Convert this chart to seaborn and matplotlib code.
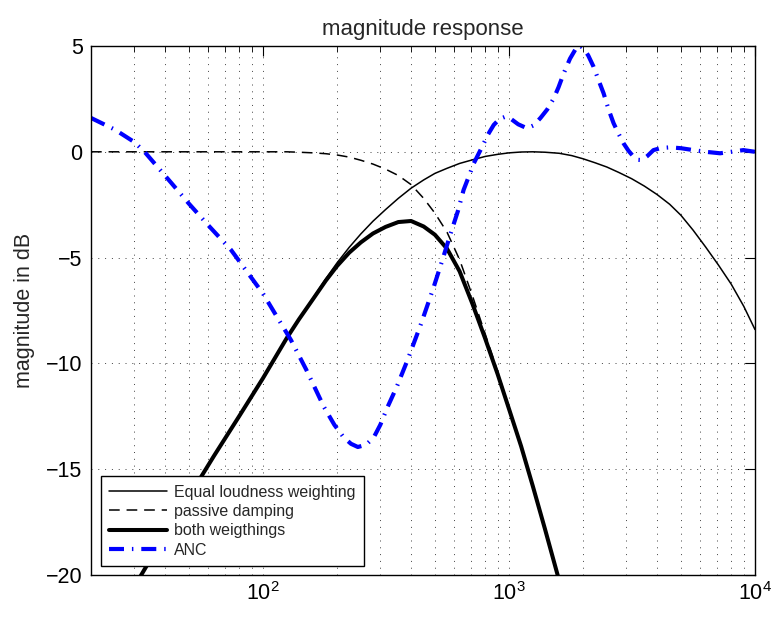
import numpy as np
import pandas as pd
import matplotlib
matplotlib.use("Agg")
import matplotlib.pyplot as plt
import seaborn as sns
from matplotlib.ticker import LogLocator, FixedLocator

# ---------------- data ----------------
freq = [20, 25, 32, 40, 50, 63, 80, 100, 125, 140, 160, 180, 200, 224, 250, 280,
        315, 355, 400, 450, 500, 560, 630, 710, 800, 900, 1000, 1120, 1250, 1400,
        1600, 1800, 2000, 2240, 2500, 2800, 3150, 3550, 4000, 4500, 5000, 5600,
        6300, 7100, 8000, 9000, 10000]
loudness = [-24.0, -22.1, -20.0, -18.1, -16.3, -14.4, -12.5, -10.7, -8.8, -7.9,
            -6.9, -6.0, -5.25, -4.52, -3.88, -3.28, -2.73, -2.2, -1.72, -1.33,
            -1.02, -0.78, -0.55, -0.38, -0.22, -0.12, -0.05, -0.01, 0.0, -0.02,
            -0.07, -0.18, -0.33, -0.52, -0.72, -0.98, -1.27, -1.62, -2.02, -2.48,
            -3.0, -3.7, -4.5, -5.35, -6.25, -7.3, -8.4]

passive_freq = [20, 25, 32, 40, 50, 63, 80, 100, 125, 140, 160, 180, 200, 224, 250,
                280, 315, 355, 400, 450, 500, 560, 630, 710, 800, 900, 1000, 1120,
                1250, 1400, 1600, 1800, 2000, 2500]
passive = [0.0, 0.0, 0.0, 0.0, 0.0, 0.0, 0.0, 0.0, 0.0, -0.02, -0.05, -0.09, -0.15,
           -0.25, -0.4, -0.58, -0.82, -1.12, -1.55, -2.2, -2.9, -3.8, -5.1, -6.8,
           -8.6, -10.4, -12.1, -13.9, -15.8, -17.8, -20.2, -22.2, -24.0, -28.0]

both_freq = passive_freq
both = [-24.0, -22.1, -20.0, -18.1, -16.3, -14.4, -12.5, -10.7, -8.8, -7.92, -6.95,
        -6.09, -5.4, -4.77, -4.28, -3.86, -3.55, -3.32, -3.27, -3.53, -3.92, -4.58,
        -5.65, -7.18, -8.82, -10.52, -12.15, -13.91, -15.8, -17.82, -20.27, -22.38,
        -24.33, -28.72]

anc_freq = [20, 25, 30, 33, 42.4, 50, 59.8, 74.2, 86.9, 100, 130, 150, 177, 195,
            213, 228, 243, 262, 282, 300, 321, 350, 387, 440, 494, 540, 580, 620,
            654, 690, 719, 778, 820, 867, 915, 968, 1020, 1090, 1185, 1260, 1343,
            1430, 1521, 1590, 1668, 1770, 1891, 1950, 2011, 2100, 2207, 2310, 2425,
            2540, 2662, 2790, 2922, 3060, 3208, 3350, 3468, 3650, 3866, 4150, 4517,
            5000, 5620, 6300, 7210, 8000, 8970, 10000]
anc = [1.6, 1.05, 0.46, 0.0, -1.47, -2.45, -3.46, -4.64, -5.73, -6.7, -8.9, -10.3,
       -12.06, -12.9, -13.5, -13.8, -13.95, -13.85, -13.5, -12.9, -12.06, -11.1,
       -9.84, -8.1, -6.4, -5.0, -3.84, -2.8, -1.8, -1.1, -0.55, 0.24, 0.8, 1.27,
       1.55, 1.66, 1.55, 1.3, 1.11, 1.25, 1.6, 2.0, 2.53, 3.05, 3.7, 4.4, 4.97,
       5.0, 4.89, 4.55, 4.02, 3.4, 2.76, 2.0, 1.35, 0.85, 0.4, 0.05, -0.23, -0.38,
       -0.39, -0.2, 0.08, 0.18, 0.21, 0.17, 0.08, 0.0, -0.07, 0.0, 0.08, 0.0]

labels = ["Equal loudness weighting", "passive damping", "both weigthings", "ANC"]
y_ticks = [-20, -15, -10, -5, 0, 5]

# ---------------- style ----------------
sns.set_style("white")
plt.rcParams["font.family"] = ["Liberation Sans", "DejaVu Sans"]
plt.rcParams["axes.unicode_minus"] = True

fig = plt.figure(figsize=(7.74, 6.17), dpi=100)
ax = fig.add_axes([91 / 774, 42 / 617, (755 - 91) / 774, (575 - 46) / 617])

df_l = pd.DataFrame({"f": freq, "y": loudness})
df_p = pd.DataFrame({"f": passive_freq, "y": passive})
df_b = pd.DataFrame({"f": both_freq, "y": both})
df_a = pd.DataFrame({"f": anc_freq, "y": anc})

sns.lineplot(data=df_l, x="f", y="y", ax=ax, color="black", linewidth=1.1,
             label=labels[0], errorbar=None)
sns.lineplot(data=df_p, x="f", y="y", ax=ax, color="black", linewidth=1.1,
             linestyle=(0, (7, 4.5)), label=labels[1], errorbar=None)
sns.lineplot(data=df_b, x="f", y="y", ax=ax, color="black", linewidth=2.9,
             label=labels[2], errorbar=None)
sns.lineplot(data=df_a, x="f", y="y", ax=ax, color="#0000ff", linewidth=3.0,
             linestyle=(0, (3.6, 1.9, 0.35, 1.9)), label=labels[3], errorbar=None)

ax.set_xscale("log")
ax.set_xlim(20, 10000)
ax.set_ylim(-20, 5)
ax.yaxis.set_major_locator(FixedLocator(y_ticks))
ax.xaxis.set_major_locator(LogLocator(base=10, numticks=10))
ax.xaxis.set_minor_locator(LogLocator(base=10, subs=np.arange(2, 10), numticks=20))

grid_kw = dict(color="0.25", linewidth=0.7, linestyle=(0, (1, 6)))
ax.grid(True, which="major", axis="both", **grid_kw)
ax.grid(True, which="minor", axis="x", **grid_kw)

for s in ax.spines.values():
    s.set_visible(True)
    s.set_color("black")
    s.set_linewidth(1.0)

ax.tick_params(which="both", direction="in", top=True, right=True,
               colors="black", labelsize=15.5)
ax.tick_params(which="major", length=7, width=0.8)
ax.tick_params(which="minor", length=4, width=0.6)
ax.tick_params(axis="x", which="major", pad=5)
ax.tick_params(axis="y", which="major", pad=6)

ax.set_title("magnitude response", fontsize=16, pad=8)
ax.set_xlabel("")
ax.set_ylabel("magnitude in dB", fontsize=15.5, labelpad=8)

leg = ax.legend(loc="lower left", bbox_to_anchor=(10 / 664, 9 / 529),
                borderaxespad=0, fontsize=11.5, frameon=True, fancybox=False,
                framealpha=1, edgecolor="black", handlelength=3.6,
                handletextpad=0.45, labelspacing=0.27, borderpad=0.52)
leg.get_frame().set_linewidth(1.0)

fig.savefig("out.png", dpi=100, facecolor="white")
